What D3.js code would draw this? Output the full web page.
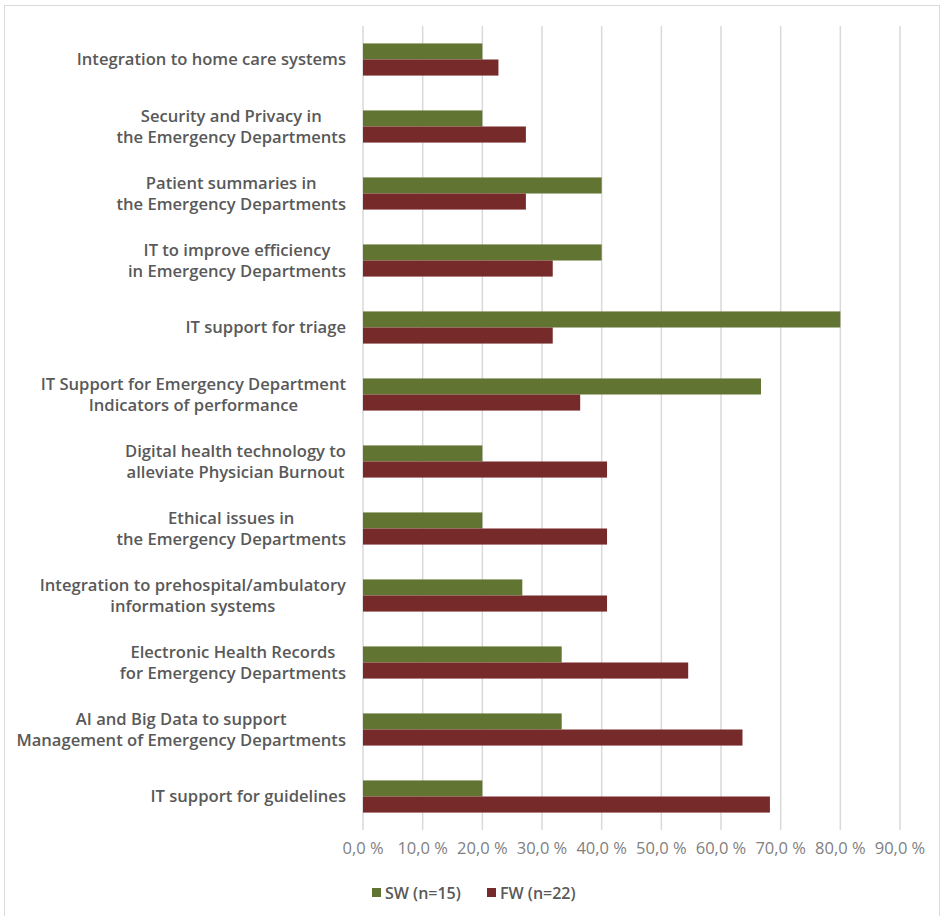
<!DOCTYPE html>
<html lang="en">
<head>
    <meta charset="UTF-8">
    <title>SW vs FW priorities</title>
    <style>
        body { margin: 0; background: #fff; }
        .cat text { font-family: "Open Sans", Lato, sans-serif; font-weight: 600; font-size: 16.6px; fill: #595959; }
        .tick text { font-family: "Liberation Sans Narrow", "Open Sans", sans-serif; font-size: 16.5px; fill: #7f7f7f; }
        .legend text { font-family: "Open Sans", sans-serif; font-weight: 600; font-size: 16px; fill: #595959; }
        .grid { stroke: #d9d9d9; stroke-width: 1.5px; }
    </style>
</head>
<body>
    <div id="chart"></div>
    <script src="https://d3js.org/d3.v7.min.js"></script>
    <script>
        // categories (top to bottom), each entry is a list of label lines
        const categories = [
            ["Integration to home care systems"],
            ["Security and Privacy in", "the Emergency Departments"],
            ["Patient summaries in", "the Emergency Departments"],
            ["IT to improve efficiency", "in Emergency Departments"],
            ["IT support for triage"],
            ["IT Support for Emergency Department", "Indicators of performance"],
            ["Digital health technology to", "alleviate Physician Burnout"],
            ["Ethical issues in", "the Emergency Departments"],
            ["Integration to prehospital/ambulatory", "information systems"],
            ["Electronic Health Records", "for Emergency Departments"],
            ["AI and Big Data to support", "Management of Emergency Departments"],
            ["IT support for guidelines"]
        ];
        const swValues = [20.0, 20.0, 40.0, 40.0, 80.0, 66.7, 20.0, 20.0, 26.7, 33.3, 33.3, 20.0];
        const fwValues = [22.7, 27.3, 27.3, 31.8, 31.8, 36.4, 40.9, 40.9, 40.9, 54.5, 63.6, 68.2];
        const tickValues = [0, 10, 20, 30, 40, 50, 60, 70, 80, 90];
        const seriesNames = ["SW (n=15)", "FW (n=22)"];
        const seriesColors = ["#627431", "#772a2a"];

        const width = 944, height = 916;
        const plot = { left: 363, right: 900, top: 26, bottom: 830 };

        const svg = d3.select("#chart").append("svg")
            .attr("width", width)
            .attr("height", height);

        // outer frame
        svg.append("rect")
            .attr("x", 4.5).attr("y", 5.5)
            .attr("width", 935).attr("height", 920)
            .attr("fill", "none")
            .attr("stroke", "#d9d9d9")
            .attr("stroke-width", 1);

        const x = d3.scaleLinear().domain([0, 90]).range([plot.left, plot.right]);
        const y = d3.scaleBand()
            .domain(d3.range(categories.length))
            .range([plot.top, plot.bottom])
            .paddingInner(0.52)
            .paddingOuter(0.26);
        const sub = d3.scaleBand().domain([0, 1]).range([0, y.bandwidth()]);

        // vertical gridlines
        svg.append("g").selectAll("line")
            .data(tickValues)
            .join("line")
            .attr("class", "grid")
            .attr("x1", d => x(d)).attr("x2", d => x(d))
            .attr("y1", plot.top).attr("y2", plot.bottom);

        // tick labels
        const ticks = svg.append("g").attr("class", "tick");
        ticks.selectAll("text")
            .data(tickValues)
            .join("text")
            .attr("x", d => x(d))
            .attr("y", 854)
            .attr("text-anchor", "middle")
            .text(d => d.toFixed(1).replace(".", ",") + " %");

        // bars
        const series = [swValues, fwValues];
        series.forEach((vals, s) => {
            svg.append("g").selectAll("rect")
                .data(vals)
                .join("rect")
                .attr("x", x(0))
                .attr("y", (d, i) => y(i) + sub(s))
                .attr("width", d => x(d) - x(0))
                .attr("height", sub.bandwidth())
                .attr("fill", seriesColors[s]);
        });

        // category labels: block right-aligned, lines centred within block
        const labelRight = 346, lineH = 21;
        const cat = svg.append("g").attr("class", "cat");
        categories.forEach((lines, i) => {
            const g = cat.append("g");
            const cy = y(i) + y.bandwidth() / 2;
            const texts = lines.map((t, k) => g.append("text")
                .attr("y", cy + (k - (lines.length - 1) / 2) * lineH)
                .attr("dy", "0.35em")
                .attr("text-anchor", "middle")
                .text(t));
            const w = d3.max(texts, t => t.node().getComputedTextLength());
            texts.forEach(t => t.attr("x", labelRight - w / 2));
        });

        // legend
        const legend = svg.append("g").attr("class", "legend");
        const legendX = [372, 487];
        seriesNames.forEach((name, s) => {
            legend.append("rect")
                .attr("x", legendX[s]).attr("y", 888)
                .attr("width", 9).attr("height", 9)
                .attr("fill", seriesColors[s]);
            legend.append("text")
                .attr("x", legendX[s] + 13).attr("y", 893)
                .attr("dy", "0.35em")
                .text(name);
        });
    </script>
</body>
</html>
